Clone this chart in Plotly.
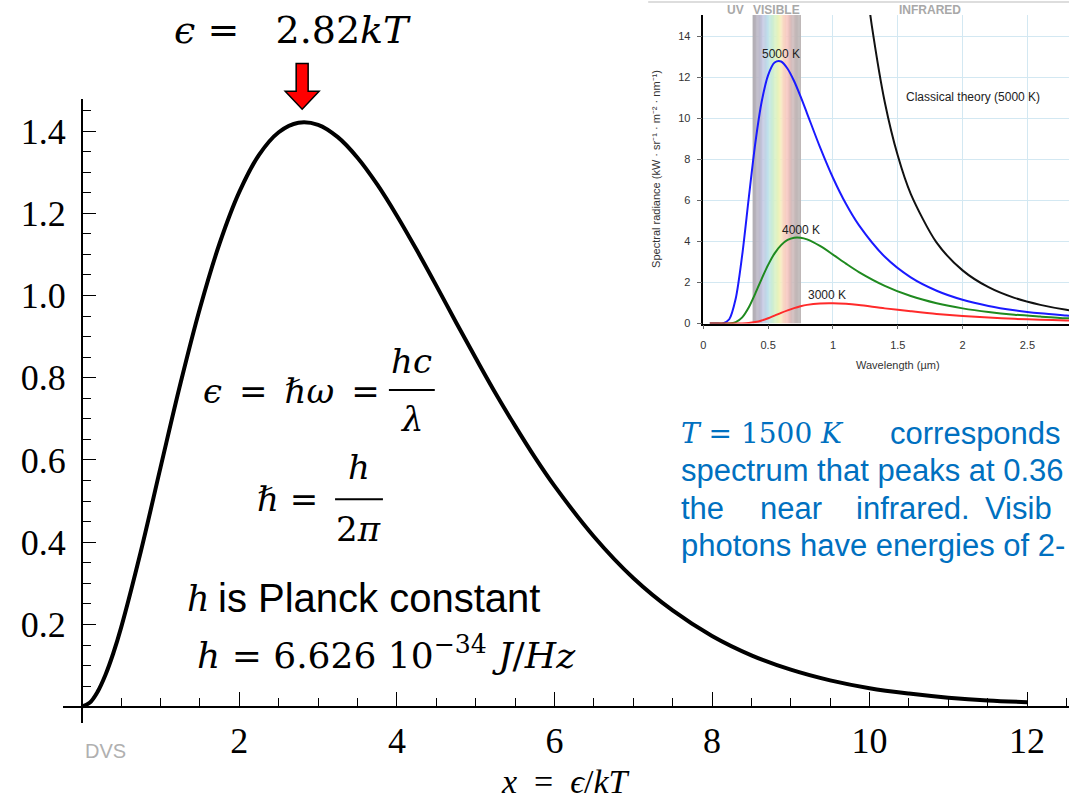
import plotly.graph_objects as go
import numpy as np

W, H = 1069, 806

# ---------------- data: main curve x^3/(e^x-1) ----------------
x_main = [0, 0.1, 0.2, 0.3, 0.4, 0.5, 0.75, 1, 1.25, 1.5, 1.75, 2, 2.25, 2.5, 2.75, 3,
          3.25, 3.5, 3.75, 4, 4.25, 4.5, 4.75, 5, 5.25, 5.5, 5.75, 6, 6.5, 7, 7.5, 8, 8.5,
          9, 9.5, 10, 10.5, 11, 11.5, 12]
y_main = [0, 0.0095, 0.0361, 0.0772, 0.130, 0.193, 0.378, 0.582, 0.784, 0.969, 1.127,
          1.252, 1.342, 1.397, 1.420, 1.415, 1.385, 1.335, 1.270, 1.194, 1.111, 1.024,
          0.935, 0.848, 0.763, 0.683, 0.607, 0.537, 0.414, 0.313, 0.234, 0.172, 0.125,
          0.090, 0.064, 0.045, 0.032, 0.022, 0.015, 0.011]
main_ytick_vals = [0.2, 0.4, 0.6, 0.8, 1.0, 1.2, 1.4]
main_ytick_text = ["0.2", "0.4", "0.6", "0.8", "1.0", "1.2", "1.4"]
main_xtick_vals = [2, 4, 6, 8, 10, 12]
main_xtick_text = ["2", "4", "6", "8", "10", "12"]

# ---------------- data: inset black-body spectra ----------------
wavelength = [0.05, 0.1, 0.15, 0.2, 0.25, 0.3, 0.35, 0.4, 0.45, 0.5, 0.55, 0.6, 0.65, 0.7,
              0.75, 0.8, 0.9, 1.0, 1.1, 1.2, 1.4, 1.6, 1.8, 2.0, 2.2, 2.4, 2.6, 2.8, 2.9]
rad_5000 = [0, 0, 0.007, 0.21, 1.22, 3.34, 6.09, 8.74, 10.80, 12.10, 12.71, 12.76, 12.41,
            11.81, 11.06, 10.24, 8.59, 7.10, 5.83, 4.79, 3.25, 2.25, 1.60, 1.16, 0.86, 0.65,
            0.50, 0.39, 0.34]
rad_4000 = [0, 0, 0, 0.006, 0.069, 0.30, 0.78, 1.45, 2.18, 2.86, 3.42, 3.82, 4.07, 4.18,
            4.18, 4.10, 3.78, 3.36, 2.92, 2.51, 1.84, 1.34, 0.99, 0.74, 0.56, 0.43, 0.34,
            0.26, 0.24]
rad_3000 = [0, 0, 0, 0, 0.001, 0.006, 0.025, 0.072, 0.15, 0.26, 0.39, 0.52, 0.64, 0.75,
            0.84, 0.91, 0.98, 0.99, 0.96, 0.90, 0.74, 0.60, 0.47, 0.37, 0.29, 0.23, 0.19,
            0.15, 0.14]
wl_classical = [1.27, 1.3, 1.4, 1.5, 1.6, 1.8, 2.0, 2.2, 2.4, 2.6, 2.8, 2.9]
rad_classical = [15.91, 14.50, 10.78, 8.18, 6.32, 3.94, 2.59, 1.77, 1.25, 0.91, 0.67, 0.59]
inset_xtick_vals = [0, 0.5, 1, 1.5, 2, 2.5]
inset_xtick_text = ["0", "0.5", "1", "1.5", "2", "2.5"]
inset_ytick_vals = [0, 2, 4, 6, 8, 10, 12, 14]
visible_band = [0.38, 0.751]


def px(x):
    return x / W


def py(y):
    return 1 - y / H


fig = go.Figure()

# main curve
fig.add_trace(go.Scatter(x=x_main, y=y_main, mode="lines",
                         line=dict(color="black", width=4, shape="spline", smoothing=1.0),
                         xaxis="x", yaxis="y", hoverinfo="skip", showlegend=False))

# inset curves
inset_curves = [(wavelength, rad_5000, "#1a1aff"), (wavelength, rad_4000, "#1f8a1f"),
                (wavelength, rad_3000, "#ff2a2a"), (wl_classical, rad_classical, "#111111")]
for xs, ys, col in inset_curves:
    fig.add_trace(go.Scatter(x=xs, y=ys, mode="lines",
                             line=dict(color=col, width=2, shape="spline", smoothing=0.8),
                             xaxis="x2", yaxis="y2", hoverinfo="skip", showlegend=False))

# ---------------- axes ----------------
serif = "Liberation Serif"
fig.update_layout(
    width=W, height=H,
    margin=dict(l=0, r=0, t=0, b=0),
    paper_bgcolor="white", plot_bgcolor="rgba(0,0,0,0)",
    showlegend=False,
    xaxis=dict(domain=[px(60), 1], range=[-0.2405, 12.5316], anchor="free", position=py(712),
               showline=True, linecolor="black", linewidth=1.5, showgrid=False, zeroline=False,
               tickvals=main_xtick_vals, ticktext=main_xtick_text, ticks="inside", ticklen=14,
               tickcolor="black", tickwidth=1, ticklabelstandoff=2,
               tickfont=dict(family=serif, size=36, color="black"),
               minor=dict(tick0=0, dtick=0.5, ticks="inside", ticklen=8, tickcolor="black",
                          tickwidth=1, showgrid=False)),
    yaxis=dict(domain=[py(728), py(100)], range=[-0.0386, 1.4772], anchor="free", position=px(79),
               showline=True, linecolor="black", linewidth=1.5, showgrid=False, zeroline=False,
               tickvals=main_ytick_vals, ticktext=main_ytick_text, ticks="inside", ticklen=13,
               tickcolor="black", tickwidth=1, ticklabelstandoff=8,
               tickfont=dict(family=serif, size=36, color="black"),
               minor=dict(tick0=0, dtick=0.05, ticks="inside", ticklen=8, tickcolor="black",
                          tickwidth=1, showgrid=False)),
    xaxis2=dict(domain=[px(702.3), 1], range=[0, 2.821], anchor="y2",
                showline=True, linecolor="black", linewidth=1.5, zeroline=False,
                showgrid=True, gridcolor="#d3e8f2", gridwidth=1,
                tickvals=inset_xtick_vals, ticktext=inset_xtick_text, ticks="outside", ticklen=4,
                tickcolor="#666", ticklabelstandoff=6,
                tickfont=dict(family="Liberation Sans", size=11, color="#333")),
    yaxis2=dict(domain=[py(326), py(15)], range=[0, 15.03], anchor="x2",
                showline=True, linecolor="black", linewidth=1.5, zeroline=False,
                showgrid=True, gridcolor="#d3e8f2", gridwidth=1,
                tickvals=inset_ytick_vals, ticks="outside", ticklen=5, tickcolor="#666",
                ticklabelstandoff=4,
                tickfont=dict(family="Liberation Sans", size=11, color="#333")),
)

shapes = []
# visible band gradient in inset
stops = [(0.380, (178, 174, 178)), (0.42, (186, 181, 196)), (0.46, (196, 200, 226)),
         (0.50, (190, 226, 236)), (0.53, (202, 236, 214)), (0.56, (218, 242, 192)),
         (0.59, (242, 242, 186)), (0.62, (249, 214, 196)), (0.65, (246, 196, 191)),
         (0.68, (212, 186, 186)), (0.72, (192, 183, 183)), (0.751, (186, 180, 180))]
sx = np.array([s[0] for s in stops])
sc = np.array([s[1] for s in stops], dtype=float)
edges = np.linspace(visible_band[0], visible_band[1], 41)
for i in range(len(edges) - 1):
    m = 0.5 * (edges[i] + edges[i + 1])
    c = [int(round(np.interp(m, sx, sc[:, k]))) for k in range(3)]
    shapes.append(dict(type="rect", xref="x2", yref="y2", x0=edges[i], x1=edges[i + 1] + 0.002,
                       y0=0, y1=15.03, line=dict(width=0),
                       fillcolor=f"rgb({c[0]},{c[1]},{c[2]})", layer="between"))
# inset top frame line
shapes.append(dict(type="line", xref="paper", yref="paper", x0=px(647), x1=1, y0=py(2), y1=py(2),
                   line=dict(color="#dddddd", width=2)))
# red arrow
pts = [(294, 64), (306, 64), (306, 92), (317, 92), (300, 110), (283, 92), (294, 92)]
path = "M " + " L ".join(f"{px(a):.5f},{py(b):.5f}" for a, b in pts) + " Z"
shapes.append(dict(type="path", xref="paper", yref="paper", path=path, fillcolor="#ff0000",
                   line=dict(color="black", width=1.5)))
# fraction bars
shapes.append(dict(type="line", xref="paper", yref="paper", x0=px(387), x1=px(433),
                   y0=py(393), y1=py(393), line=dict(color="black", width=2)))
shapes.append(dict(type="line", xref="paper", yref="paper", x0=px(333), x1=px(381),
                   y0=py(503), y1=py(503), line=dict(color="black", width=2)))
fig.update_layout(shapes=shapes)

ann = []


def text(x, y, s, size, family, color="black", xanchor="left", yanchor="middle", angle=0):
    ann.append(dict(x=px(x), y=py(y), xref="paper", yref="paper", text=s, showarrow=False,
                    xanchor=xanchor, yanchor=yanchor, textangle=angle,
                    font=dict(size=size, family=family, color=color)))


math = "DejaVu Serif"
nb = "\u00a0"
en = "\u2002"
em = "\u2003"
text(290, 30, f"<i>ϵ</i> ={nb}{nb} 2.82<i>kT</i>", 38, math, xanchor="center")
text(199, 394, f"<i>ϵ</i>{en}={en}<i>ℏω</i>{en}=", 34, math)
text(410, 364, "<i>hc</i>", 34, math, xanchor="center")
text(410, 422, "<i>λ</i>", 34, math, xanchor="center")
text(253, 503, f"<i>ℏ</i>{nb}={nb}", 34, math)
text(357, 470, "<i>h</i>", 34, math, xanchor="center")
text(357, 533, "2<i>π</i>", 34, math, xanchor="center")
text(183, 603, "<i>h</i>", 35, math)
text(214, 602, "is Planck constant", 40, "Liberation Sans")
text(193, 658, f"<i>h</i>{nb}={nb}6.626{nb}10<sup>−34</sup>{nb}<i>J</i>/<i>Hz</i>", 36, math)
text(564, 787, f"<i>x</i>{en}={en}<i>ϵ</i>/<i>kT</i>", 34, serif, xanchor="center")
text(80, 757, "DVS", 20, "Liberation Sans", color="#b0b0b0")

# inset labels
text(735, 10, "<b>UV</b>", 12, "Liberation Sans", color="#a8a8a8", xanchor="center")
text(776, 10, "<b>VISIBLE</b>", 12, "Liberation Sans", color="#a8a8a8", xanchor="center")
text(930, 10, "<b>INFRARED</b>", 12, "Liberation Sans", color="#a8a8a8", xanchor="center")
text(780, 54, "5000 K", 12, "Liberation Sans", color="#222", xanchor="center")
text(800, 232, "4000 K", 12, "Liberation Sans", color="#222", xanchor="center")
text(826, 297, "3000 K", 12, "Liberation Sans", color="#222", xanchor="center")
text(973, 98, "Classical theory (5000 K)", 12, "Liberation Sans", color="#222", xanchor="center")
text(898, 368, "Wavelength (µm)", 11, "Liberation Sans", color="#333", xanchor="center")
text(655, 170, "Spectral radiance (kW · sr⁻¹ · m⁻² · nm⁻¹)", 11, "Liberation Sans", color="#333",
     xanchor="center", angle=-90)

# blue paragraph
blue = "#0070c0"
text(678, 437, f"<i>T</i>{nb}={nb}1500{nb}<i>K</i>", 28, math, color=blue)
text(887, 437, "corresponds", 31, "Liberation Sans", color=blue)
text(678, 474, "spectrum that peaks at 0.36", 31, "Liberation Sans", color=blue)
text(678, 512, "the", 31, "Liberation Sans", color=blue)
text(757, 512, "near", 31, "Liberation Sans", color=blue)
text(853, 512, "infrared.", 31, "Liberation Sans", color=blue)
text(983, 512, "Visib", 31, "Liberation Sans", color=blue)
text(678, 550, "photons have energies of 2-", 31, "Liberation Sans", color=blue)

fig.update_layout(annotations=ann)
fig.write_html("out.html")
